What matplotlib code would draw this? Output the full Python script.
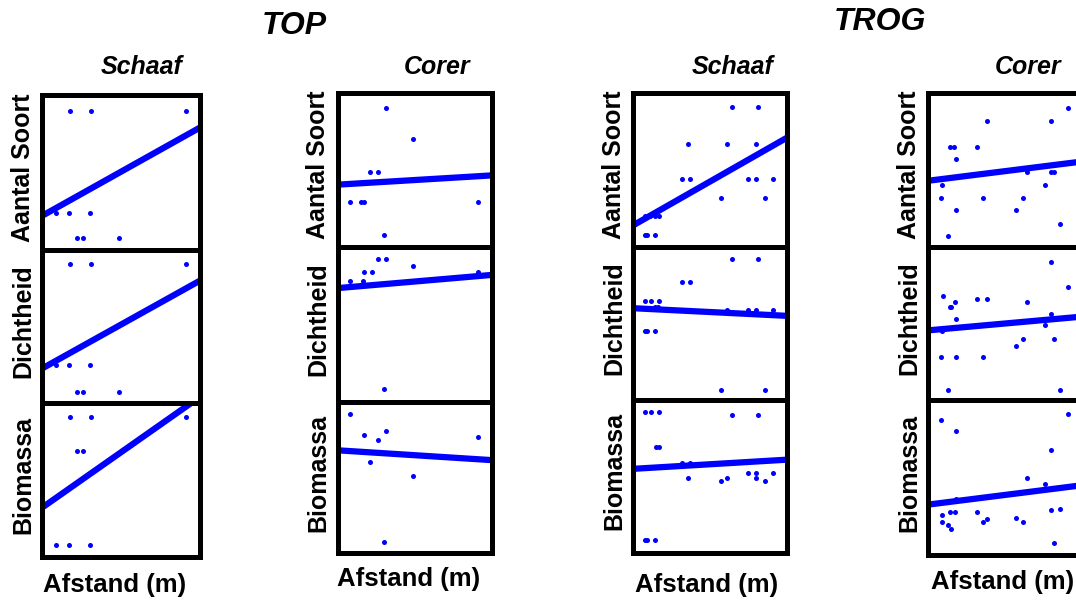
import matplotlib
matplotlib.use("Agg")
import matplotlib.pyplot as plt
import numpy as np

plt.rcParams['font.family'] = ['Liberation Sans', 'DejaVu Sans']

# afstand langs transect (0-100) en gemeten waarden (0-100 geschaald)
# TOP - Schaaf
top_schaaf_soort_x = [18, 31, 91, 9, 17, 30.5, 22, 26, 49]
top_schaaf_soort_y = [90, 90, 90, 24, 24, 24, 8, 8, 8]
top_schaaf_dicht_x = [18, 31, 91, 9, 17, 30.5, 22, 26, 49]
top_schaaf_dicht_y = [91, 91, 91, 25, 25, 25, 7.5, 7.5, 7.5]
top_schaaf_bio_x = [18, 31, 91, 22, 26, 9, 17, 30.5]
top_schaaf_bio_y = [91, 91, 91, 69, 69, 8, 8, 8]

# TOP - Corer
top_corer_soort_x = [31, 49, 21, 26, 8, 15, 17, 91, 30]
top_corer_soort_y = [90, 70, 49, 49, 29, 29, 29, 29, 8]
top_corer_dicht_x = [26, 31, 49, 17, 22, 91, 8, 16, 30]
top_corer_dicht_y = [92, 92, 88, 84, 84, 84, 78, 78, 8.5]
top_corer_bio_x = [8, 17, 31, 26, 91, 21, 49, 30]
top_corer_bio_y = [92, 78, 81, 75, 77, 60, 51, 7.5]

# TROG - Schaaf
trog_schaaf_soort_x = [64, 81, 36, 61, 80, 32, 37, 75, 80, 91, 57, 86, 8, 11, 14, 17, 7.6, 9.3, 14]
trog_schaaf_soort_y = [91, 91, 67, 67, 67, 44, 44, 44, 44, 44, 32, 32, 20, 20, 20, 20, 8, 8, 8]
trog_schaaf_dicht_x = [64, 81, 32, 37, 8, 12, 17, 14, 16, 61, 75, 80, 91, 7.6, 9.3, 14, 57, 86]
trog_schaaf_dicht_y = [92, 92, 77, 77, 65, 65, 65, 61, 61, 59, 59, 59, 59, 45, 45, 45, 6.5, 6.5]
trog_schaaf_bio_x = [8, 12, 17, 64, 81, 15, 17, 32, 37, 36, 61, 57, 75, 80, 91, 80, 86, 7.6, 9.3, 14]
trog_schaaf_bio_y = [92, 92, 92, 90, 90, 69, 69, 59, 59, 49, 49, 47, 52.5, 52.5, 52.5, 49, 47, 8.4, 8.4, 8.4]

# TROG - Corer
trog_corer_soort_x = [91, 38, 80, 14, 17, 32, 18, 64, 80, 81.5, 9.3, 76, 8.3, 36, 61.5, 18, 57, 86, 13]
trog_corer_soort_y = [90, 82, 82, 65, 65, 65, 57, 49, 49, 49, 40.5, 40.5, 32, 32, 32, 24, 24, 15, 7]
trog_corer_dicht_x = [80, 91, 9.6, 14, 15, 17.6, 32, 38, 64, 18, 80, 76, 9.3, 61.5, 81.5, 57, 8.3, 18, 36, 13, 86]
trog_corer_dicht_y = [90.5, 74, 68, 61, 61, 64, 66, 66, 64, 53, 56, 49, 45, 40, 40, 35, 28, 28, 28, 6.6, 6.6]
trog_corer_bio_x = [8.5, 91, 18, 80, 64, 76, 18, 80, 86, 32, 9.3, 14, 17.6, 38, 36, 57, 61.5, 9.3, 13, 15, 81.5]
trog_corer_bio_y = [87, 91, 80, 67.5, 50, 46, 36, 29, 30, 28, 26, 28, 28, 23, 21, 23.6, 21.4, 21, 19.4, 17, 7.6]

# regressielijnen: waarde bij afstand 0 en bij afstand 100
top_schaaf_fit = [(22, 79), (22.5, 80), (32, 104)]
top_corer_fit = [(40.5, 46.5), (73.5, 82), (68, 61.5)]
trog_schaaf_fit = [(14, 71), (60, 55), (55, 61)]
trog_corer_fit = [(43, 55.5), (45.5, 54.5), (32.5, 45)]

variabelen = ['Aantal Soort', 'Dichtheid', 'Biomassa']
kolom_titels = ['Schaaf', 'Corer', 'Schaaf', 'Corer']

kolommen = [
    ([(top_schaaf_soort_x, top_schaaf_soort_y), (top_schaaf_dicht_x, top_schaaf_dicht_y),
      (top_schaaf_bio_x, top_schaaf_bio_y)], top_schaaf_fit),
    ([(top_corer_soort_x, top_corer_soort_y), (top_corer_dicht_x, top_corer_dicht_y),
      (top_corer_bio_x, top_corer_bio_y)], top_corer_fit),
    ([(trog_schaaf_soort_x, trog_schaaf_soort_y), (trog_schaaf_dicht_x, trog_schaaf_dicht_y),
      (trog_schaaf_bio_x, trog_schaaf_bio_y)], trog_schaaf_fit),
    ([(trog_corer_soort_x, trog_corer_soort_y), (trog_corer_dicht_x, trog_corer_dicht_y),
      (trog_corer_bio_x, trog_corer_bio_y)], trog_corer_fit),
]

W, H = 1076, 601
fig = plt.figure(figsize=(W / 100, H / 100), dpi=100)

# kaders in pixels: links, rechts, boven, scheiding1, scheiding2, onder
kaders = [
    (42, 200, 95, 250, 403, 557),
    (338, 492, 93, 247, 402, 553),
    (633, 787, 93, 247, 400, 553),
    (928, 1082, 93, 247, 400, 555),
]
titel_x = [142, 437, 733, 1028]
afstand_pos = [(115, 585), (409, 579), (707, 585), (1003, 582)]
ylabel_x = [23, 318, 614, 909]

for k, (panelen, fits) in enumerate(kolommen):
    l, r, t, s1, s2, b = kaders[k]
    randen = [t, s1, s2, b]
    for i, ((xs, ys), (y0, y1)) in enumerate(zip(panelen, fits)):
        top_px, bot_px = randen[i], randen[i + 1]
        ax = fig.add_axes([l / W, 1 - bot_px / H, (r - l) / W, (bot_px - top_px) / H])
        ax.set_xlim(0, 100)
        ax.set_ylim(0, 100)
        ax.scatter(xs, ys, s=13, color='#0000ff', zorder=3, linewidths=0)
        ax.plot([0, 100], [y0, y1], color='#0000ff', lw=4.5, solid_capstyle='butt', zorder=2)
        ax.set_xticks([])
        ax.set_yticks([])
        for sp in ax.spines.values():
            sp.set_linewidth(3.6)
            sp.set_color('black')
        fig.text(ylabel_x[k] / W, 1 - ((top_px + bot_px) / 2 - 5) / H, variabelen[i],
                 rotation=90, ha='center', va='center', fontsize=18, fontweight='bold')
    fig.text(titel_x[k] / W, 1 - 67 / H, kolom_titels[k], ha='center', va='center',
             fontsize=18, fontweight='bold', style='italic')
    ax_, ay_ = afstand_pos[k]
    fig.text(ax_ / W, 1 - ay_ / H, 'Afstand (m)', ha='center', va='center',
             fontsize=18.5, fontweight='bold')

fig.text(294 / W, 1 - 26 / H, 'TOP', ha='center', va='center', fontsize=23,
         fontweight='bold', style='italic')
fig.text(880 / W, 1 - 22 / H, 'TROG', ha='center', va='center', fontsize=23,
         fontweight='bold', style='italic')

fig.savefig('out.png', dpi=100)
